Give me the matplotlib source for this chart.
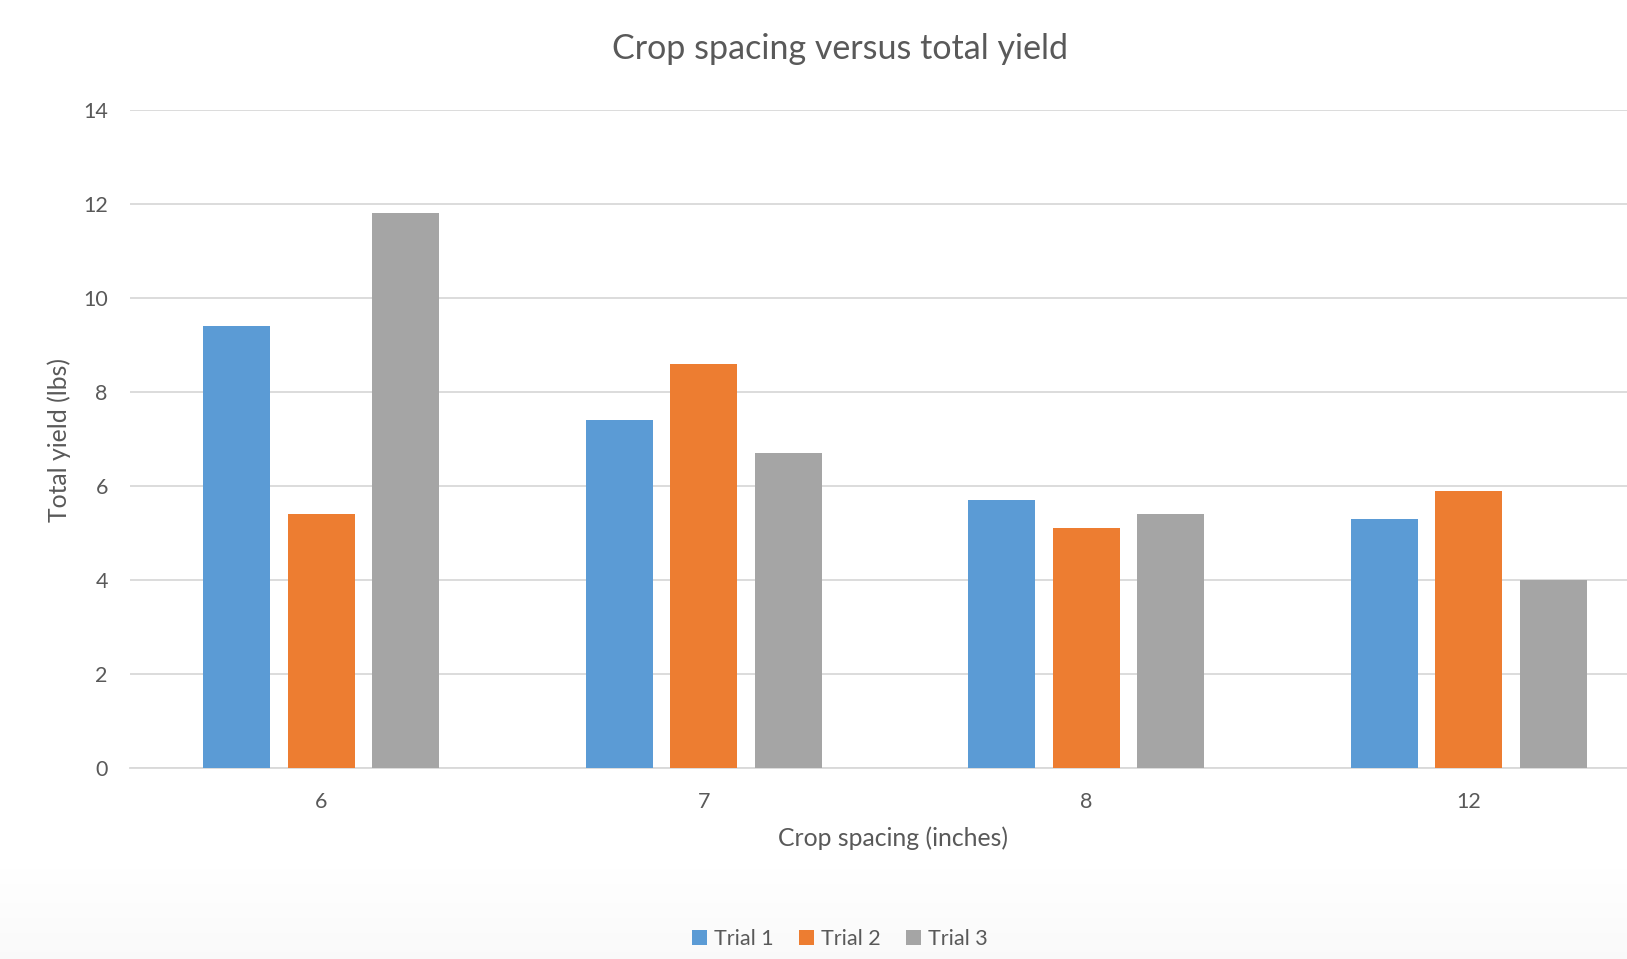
import matplotlib
matplotlib.use("Agg")
import matplotlib.pyplot as plt
import numpy as np
from matplotlib.patches import Patch

categories = ["6", "7", "8", "12"]
trial1 = [9.4, 7.4, 5.7, 5.3]
trial2 = [5.4, 8.6, 5.1, 5.9]
trial3 = [11.8, 6.7, 5.4, 4.0]
series_names = ["Trial 1", "Trial 2", "Trial 3"]
colors = ["#5B9BD5", "#ED7D31", "#A5A5A5"]
yticks = [0, 2, 4, 6, 8, 10, 12, 14]

plt.rcParams['font.family'] = ['Lato', 'DejaVu Sans']
txt = "#595959"

W, H = 1627, 959
fig = plt.figure(figsize=(W/100, H/100), dpi=100)

# subtle bottom gradient
bg = fig.add_axes([0, 0, 1, 1], zorder=-10)
g = np.linspace(0, 1, 256).reshape(-1, 1)
shade = np.where(g < 0.11, 0.975 + (g / 0.11) * 0.025, 1.0)
bg.imshow(shade, aspect='auto', cmap='gray', vmin=0, vmax=1, extent=[0, 1, 0, 1], origin='lower')
bg.axis('off')

ax = fig.add_axes([130/W, 191/H, 1530/W, 658/H])
ax.set_facecolor('none')
x = np.arange(len(categories))
bw = 0.175
off = 0.221
for i, (vals, name, c) in enumerate(zip([trial1, trial2, trial3], series_names, colors)):
    ax.bar(x + (i - 1) * off, vals, width=bw, color=c, label=name, zorder=3)

ax.set_xlim(-0.5, len(categories) - 0.5)
ax.set_ylim(0, 14)
ax.set_yticks(yticks)
ax.set_yticklabels([str(v) for v in yticks])
ax.set_xticks(x)
ax.set_xticklabels(categories)
ax.grid(axis='y', color='#D9D9D9', linewidth=1.3, zorder=0)
for s in ['top', 'right', 'left']:
    ax.spines[s].set_visible(False)
ax.spines['bottom'].set_color('#D9D9D9')
ax.spines['bottom'].set_linewidth(1.3)
ax.tick_params(axis='both', length=0, colors=txt, labelsize=15.5)
ax.tick_params(axis='y', pad=16)
ax.tick_params(axis='x', pad=17)

fig.text(840/W, 1 - 49/H, "Crop spacing versus total yield", ha='center', va='center',
         fontsize=24.5, color=txt)
fig.text(893/W, 1 - 838/H, "Crop spacing (inches)", ha='center', va='center',
         fontsize=17.8, color=txt)
fig.text(59/W, 1 - 440/H, "Total yield (lbs)", ha='center', va='center',
         rotation=90, fontsize=17.8, color=txt)

handles = [Patch(facecolor=c, label=n) for c, n in zip(colors, series_names)]
fig.legend(handles=handles, loc='center', bbox_to_anchor=(840/W, 20/H), ncol=3,
           frameon=False, fontsize=15.5, labelcolor=txt, handlelength=0.7, handleheight=0.7,
           handletextpad=0.3, columnspacing=1.2)

fig.savefig("out.png", dpi=100)
